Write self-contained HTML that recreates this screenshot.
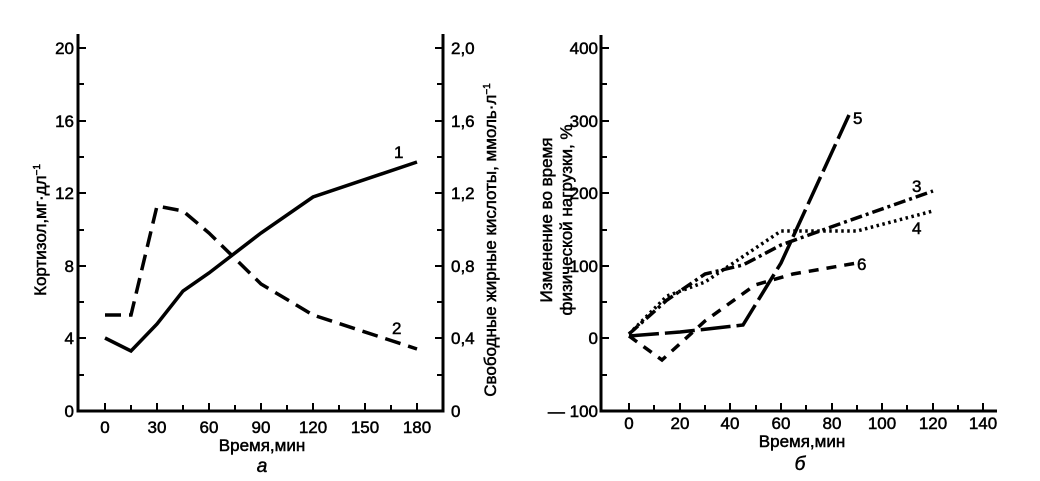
<!DOCTYPE html>
<html><head><meta charset="utf-8"><style>body{margin:0;background:#fff}svg{display:block}text{font-family:"Liberation Sans",sans-serif;fill:#000;stroke:#000;stroke-width:0.5}</style></head><body>
<svg width="1040" height="481" viewBox="0 0 1040 481">
<g stroke="#000" stroke-width="3" fill="none">
<polyline points="78,34 78,411 443,411 443,34"/>
</g>
<g stroke="#000" stroke-width="2">
<line x1="78" y1="48" x2="86" y2="48"/><line x1="78" y1="84" x2="84" y2="84"/><line x1="78" y1="121" x2="86" y2="121"/><line x1="78" y1="157" x2="84" y2="157"/><line x1="78" y1="193" x2="86" y2="193"/><line x1="78" y1="230" x2="84" y2="230"/><line x1="78" y1="266" x2="86" y2="266"/><line x1="78" y1="302" x2="84" y2="302"/><line x1="78" y1="338" x2="86" y2="338"/><line x1="78" y1="375" x2="84" y2="375"/>
<line x1="443" y1="48" x2="435" y2="48"/><line x1="443" y1="84" x2="437" y2="84"/><line x1="443" y1="121" x2="435" y2="121"/><line x1="443" y1="157" x2="437" y2="157"/><line x1="443" y1="193" x2="435" y2="193"/><line x1="443" y1="230" x2="437" y2="230"/><line x1="443" y1="266" x2="435" y2="266"/><line x1="443" y1="302" x2="437" y2="302"/><line x1="443" y1="338" x2="435" y2="338"/><line x1="443" y1="375" x2="437" y2="375"/>
<line x1="105" y1="411" x2="105" y2="403"/><line x1="131" y1="411" x2="131" y2="405"/><line x1="157" y1="411" x2="157" y2="403"/><line x1="183" y1="411" x2="183" y2="405"/><line x1="209" y1="411" x2="209" y2="403"/><line x1="235" y1="411" x2="235" y2="405"/><line x1="261" y1="411" x2="261" y2="403"/><line x1="287" y1="411" x2="287" y2="405"/><line x1="313" y1="411" x2="313" y2="403"/><line x1="339" y1="411" x2="339" y2="405"/><line x1="365" y1="411" x2="365" y2="403"/><line x1="391" y1="411" x2="391" y2="405"/><line x1="417" y1="411" x2="417" y2="403"/>
</g>
<g font-size="17" text-anchor="end">
<text x="74" y="54">20</text><text x="74" y="127">16</text><text x="74" y="199">12</text><text x="74" y="272">8</text><text x="74" y="344">4</text><text x="74" y="417">0</text>
</g>
<g font-size="17" text-anchor="start">
<text x="451" y="54">2,0</text><text x="451" y="127">1,6</text><text x="451" y="199">1,2</text><text x="451" y="272">0,8</text><text x="451" y="344">0,4</text><text x="451" y="417">0</text>
</g>
<g font-size="17" text-anchor="middle">
<text x="105" y="433">0</text><text x="157" y="433">30</text><text x="209" y="433">60</text><text x="261" y="433">90</text><text x="313" y="433">120</text><text x="365" y="433">150</text><text x="417" y="433">180</text>
<text x="262" y="451">Время,мин</text>
<text x="262" y="472" font-family="Liberation Serif" font-style="italic" font-size="19" stroke-width="0">а</text>
</g>
<text transform="translate(46,230) rotate(-90)" font-size="17" text-anchor="middle">Кортизол,мг·дл<tspan dy="-6" font-size="10">−1</tspan></text>
<text transform="translate(496,240) rotate(-90)" font-size="17" text-anchor="middle">Свободные жирные кислоты, ммоль·л<tspan dy="-6" font-size="10">−1</tspan></text>
<polyline fill="none" stroke="#000" stroke-width="3.5" points="105,338 131,351 157,324 183,291 209,273 261,233 313,197 417,162"/>
<polyline fill="none" stroke="#000" stroke-width="3.5" stroke-dasharray="16,8" points="105,315 131,315 157,206 183,211 209,233 261,284 313,315 417,349"/>
<text x="394" y="158" font-size="17">1</text>
<text x="392" y="334" font-size="17">2</text>

<g stroke="#000" stroke-width="3" fill="none">
<polyline points="601,35 601,411 997,411"/>
</g>
<g stroke="#000" stroke-width="2">
<line x1="601" y1="48" x2="609" y2="48"/><line x1="601" y1="84" x2="607" y2="84"/><line x1="601" y1="121" x2="609" y2="121"/><line x1="601" y1="157" x2="607" y2="157"/><line x1="601" y1="193" x2="609" y2="193"/><line x1="601" y1="230" x2="607" y2="230"/><line x1="601" y1="266" x2="609" y2="266"/><line x1="601" y1="302" x2="607" y2="302"/><line x1="601" y1="338" x2="609" y2="338"/><line x1="601" y1="375" x2="607" y2="375"/>
<line x1="629" y1="411" x2="629" y2="403"/><line x1="654" y1="411" x2="654" y2="405"/><line x1="680" y1="411" x2="680" y2="403"/><line x1="705" y1="411" x2="705" y2="405"/><line x1="730" y1="411" x2="730" y2="403"/><line x1="756" y1="411" x2="756" y2="405"/><line x1="781" y1="411" x2="781" y2="403"/><line x1="806" y1="411" x2="806" y2="405"/><line x1="832" y1="411" x2="832" y2="403"/><line x1="857" y1="411" x2="857" y2="405"/><line x1="882" y1="411" x2="882" y2="403"/><line x1="907" y1="411" x2="907" y2="405"/><line x1="933" y1="411" x2="933" y2="403"/><line x1="958" y1="411" x2="958" y2="405"/><line x1="983" y1="411" x2="983" y2="403"/>
</g>
<g font-size="17" text-anchor="end">
<text x="598" y="54">400</text><text x="598" y="127">300</text><text x="598" y="199">200</text><text x="598" y="272">100</text><text x="598" y="344">0</text><text x="598" y="417">— 100</text>
</g>
<g font-size="17" text-anchor="middle">
<text x="629" y="429">0</text><text x="680" y="429">20</text><text x="730" y="429">40</text><text x="781" y="429">60</text><text x="832" y="429">80</text><text x="882" y="429">100</text><text x="933" y="429">120</text><text x="983" y="429">140</text>
<text x="802" y="447">Время,мин</text>
<text x="800" y="470" font-family="Liberation Serif" font-style="italic" font-size="19" stroke-width="0">б</text>
</g>
<text transform="translate(552,220) rotate(-90)" font-size="17" text-anchor="middle">Изменение во время</text>
<text transform="translate(572,220) rotate(-90)" font-size="17" text-anchor="middle">физической нагрузки, %</text>
<polyline fill="none" stroke="#000" stroke-width="3.5" stroke-dasharray="12,4,3,4" points="629,334 667,300 705,274 743,265 781,245 831,227 933,191"/>
<polyline fill="none" stroke="#000" stroke-width="3.5" stroke-dasharray="2.5,3.5" points="629,334 667,296 705,282 781,231 857,231 933,211"/>
<polyline fill="none" stroke="#000" stroke-width="3.5" stroke-dasharray="30,6" points="629,336 680,332 743,325 781,263 849,115"/>
<polyline fill="none" stroke="#000" stroke-width="3.5" stroke-dasharray="10,8" points="629,336 662,360 705,321 755,285 793,274 857,263"/>
<text x="853" y="124" font-size="17">5</text>
<text x="912" y="192" font-size="17">3</text>
<text x="912" y="234" font-size="17">4</text>
<text x="857" y="270" font-size="17">6</text>
</svg>
</body></html>
